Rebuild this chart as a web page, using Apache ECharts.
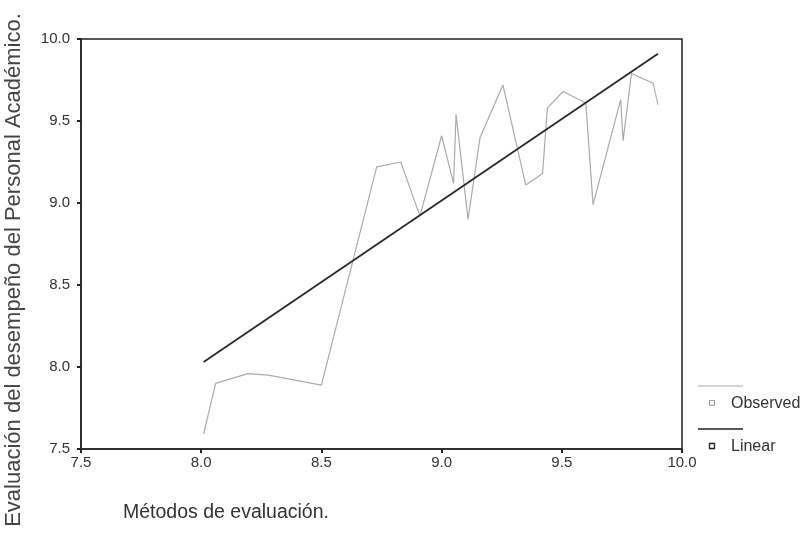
<!DOCTYPE html>
<html>
<head>
<meta charset="utf-8">
<script src="https://cdn.jsdelivr.net/npm/echarts@6/dist/echarts.min.js"></script>
<style>
  html, body { margin: 0; padding: 0; background: #fff; }
  #chart { width: 804px; height: 548px; }
</style>
</head>
<body>
<div id="chart"></div>
<script>
// Observed scores (x: evaluation methods, y: staff performance evaluation)
const observedX = [8.01, 8.06, 8.195, 8.28, 8.50, 8.73, 8.83, 8.91, 9.00, 9.05, 9.06, 9.11, 9.16, 9.255, 9.35, 9.42, 9.44, 9.505, 9.60, 9.63, 9.745, 9.755, 9.79, 9.88, 9.90];
const observedY = [7.59, 7.90, 7.96, 7.95, 7.89, 9.22, 9.25, 8.92, 9.41, 9.12, 9.54, 8.90, 9.40, 9.72, 9.11, 9.18, 9.58, 9.68, 9.61, 8.99, 9.63, 9.38, 9.79, 9.73, 9.60];

// Linear fit drawn across the observed range
const linearX = [8.01, 9.90];
const linearY = [8.03, 9.91];

// Axis ticks
const xTicks = [7.5, 8.0, 8.5, 9.0, 9.5, 10.0];
const yTicks = [7.5, 8.0, 8.5, 9.0, 9.5, 10.0];

const seriesNames = ['Observed', 'Linear'];
const xTitle = 'Métodos de evaluación.';
const yTitle = 'Evaluación del desempeño del Personal Académico.';

const pairs = (xs, ys) => xs.map((x, i) => [x, ys[i]]);

const FONT = '"Liberation Sans", Arial, sans-serif';
const chart = echarts.init(document.getElementById('chart'), null, { renderer: 'canvas' });

const axisCommon = {
  type: 'value',
  interval: 0.5,
  axisLine: { show: true, lineStyle: { color: '#222', width: 1.5 } },
  axisTick: { show: true, length: 4, lineStyle: { color: '#222', width: 2 } },
  splitLine: { show: false },
  axisLabel: {
    color: '#333', fontFamily: FONT, fontSize: 15,
    formatter: v => v.toFixed(1)
  }
};

chart.setOption({
  animation: false,
  backgroundColor: '#fff',
  grid: {
    left: 81, right: 122, top: 39, bottom: 99,
    show: true, borderColor: '#222', borderWidth: 1.5, backgroundColor: 'transparent'
  },
  xAxis: Object.assign({}, axisCommon, {
    min: xTicks[0], max: xTicks[xTicks.length - 1],
    axisLabel: Object.assign({}, axisCommon.axisLabel, { margin: 6 })
  }),
  yAxis: Object.assign({}, axisCommon, {
    min: yTicks[0], max: yTicks[yTicks.length - 1],
    axisLabel: Object.assign({}, axisCommon.axisLabel, { margin: 11 })
  }),
  series: [
    {
      name: seriesNames[0],
      type: 'line',
      data: pairs(observedX, observedY),
      showSymbol: false,
      lineStyle: { color: '#ababab', width: 1.2 },
      z: 2
    },
    {
      name: seriesNames[1],
      type: 'line',
      data: pairs(linearX, linearY),
      showSymbol: false,
      lineStyle: { color: '#2a2a2a', width: 1.8 },
      z: 3
    }
  ],
  graphic: [
    // Axis titles
    {
      type: 'text', left: 123, top: 503,
      style: { text: xTitle, font: '19.5px ' + FONT, fill: '#333' }
    },
    {
      type: 'text', x: 14, y: 270, rotation: Math.PI / 2,
      style: {
        text: yTitle, font: '22px ' + FONT, fill: '#444',
        textAlign: 'center', textVerticalAlign: 'middle'
      }
    },
    // Legend: Observed
    { type: 'line', shape: { x1: 698, y1: 386, x2: 743, y2: 386 }, style: { stroke: '#aaa', lineWidth: 1 } },
    { type: 'rect', shape: { x: 709.5, y: 400.5, width: 5, height: 5 }, style: { fill: '#fff', stroke: '#999', lineWidth: 1 } },
    { type: 'text', x: 731, y: 404, style: { text: seriesNames[0], font: '16px ' + FONT, fill: '#333', textVerticalAlign: 'middle' } },
    // Legend: Linear
    { type: 'line', shape: { x1: 698, y1: 429, x2: 743, y2: 429 }, style: { stroke: '#222', lineWidth: 1.5 } },
    { type: 'rect', shape: { x: 709.5, y: 443.5, width: 5, height: 5 }, style: { fill: '#fff', stroke: '#222', lineWidth: 1.3 } },
    { type: 'text', x: 731, y: 447, style: { text: seriesNames[1], font: '16px ' + FONT, fill: '#333', textVerticalAlign: 'middle' } }
  ]
});
</script>
</body>
</html>
